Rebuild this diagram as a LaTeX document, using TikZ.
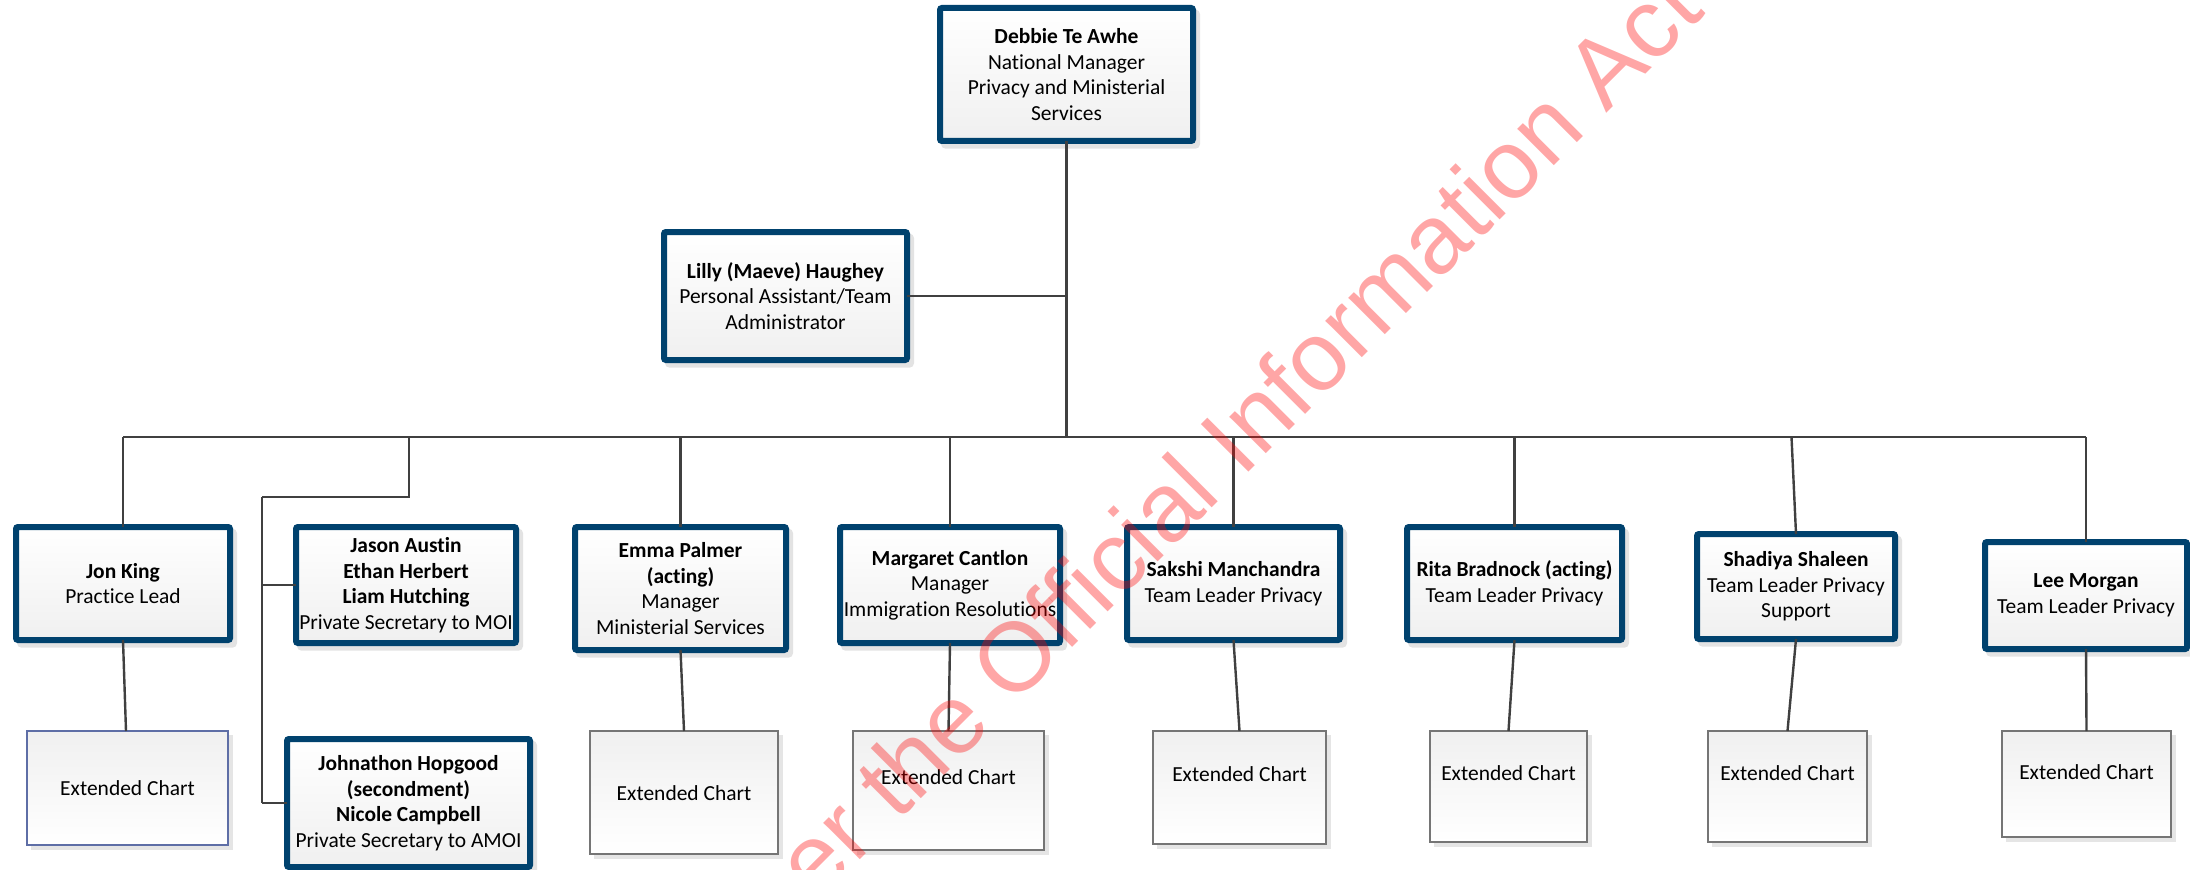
\documentclass[tikz,border=0pt]{standalone}
\usepackage{fontspec}
\setmainfont[Ligatures=NoCommon]{Carlito}
\newfontfamily\wmfont{Liberation Sans}
\usetikzlibrary{shadows,calc}
\definecolor{boxblue}{HTML}{00426E}
\definecolor{conn}{HTML}{404040}
\definecolor{jonedge}{HTML}{5E6EA6}
\definecolor{extedge}{HTML}{757575}
\tikzset{
  personbox/.style={rectangle,draw=boxblue,line width=4.5pt,rounded corners=1.5pt,
    top color=white,bottom color=black!6,middle color=black!3,inner sep=0pt,outer sep=0pt,align=center,
    font=\fontsize{16.1}{19.2}\selectfont,
    drop shadow={shadow xshift=3pt,shadow yshift=-3.5pt,fill=black!11,draw=black!11,line width=4.5pt,opacity=1}},
  extbox/.style={rectangle,draw=#1,line width=1.1pt,top color=black!6,bottom color=white,
    inner sep=0pt,outer sep=0pt,
    drop shadow={shadow xshift=3.5pt,shadow yshift=-3.5pt,fill=black!10,draw=black!10,opacity=1}},
  extlabel/.style={font=\fontsize{16.1}{19.2}\selectfont,inner sep=0pt},
  link/.style={draw=conn,line width=1.8pt},
  trunk/.style={draw=conn,line width=2.2pt},
  watermark/.style={font=\wmfont\fontsize{73.3}{80}\selectfont,text=red,text opacity=.35,inner sep=0pt}
}
\newcommand{\PB}[6]{\node[personbox,minimum width={(#4-#2-6)*0.75pt},minimum height={(#5-#3-6)*0.75pt}] (#1) at ({(#2+#4)/2},{(#3+#5)/2}) {#6};}
\newcommand{\EB}[7]{\node[extbox=#7,minimum width={(#4-#2)*0.75pt},minimum height={(#5-#3)*0.75pt},
  label={[extlabel,yshift=#6*0.75pt]center:Extended Chart}] (#1) at ({(#2+#4)/2},{(#3+#5)/2}) {};}
\begin{document}
\begin{tikzpicture}[x=0.75pt,y=-0.75pt]
\useasboundingbox (0,0) rectangle (2190,870);
% people
\PB{top}{937}{5}{1196}{144}{\textbf{Debbie Te Awhe}\\National Manager\\Privacy and Ministerial\\Services}
\PB{lilly}{661}{229}{910}{363}{\textbf{Lilly (Maeve) Haughey}\\Personal Assistant/Team\\Administrator}
\PB{jon}{13}{524}{233}{643}{\textbf{Jon King}\\Practice Lead}
\PB{jason}{293}{524}{519}{646}{\textbf{Jason Austin}\\\textbf{Ethan Herbert}\\\textbf{Liam Hutching}\\Private Secretary to MOI}
\PB{emma}{572}{524}{789}{653}{\textbf{Emma Palmer}\\\textbf{(acting)}\\Manager\\Ministerial Services}
\PB{marg}{837}{524}{1063}{646}{\textbf{Margaret Cantlon}\\Manager\\Immigration Resolutions}
\PB{john}{284}{736}{533}{870}{\textbf{Johnathon Hopgood}\\\textbf{(secondment)}\\\textbf{Nicole Campbell}\\Private Secretary to AMOI}
\PB{sakshi}{1124}{524}{1343}{643}{\textbf{Sakshi Manchandra}\\Team Leader Privacy}
\PB{rita}{1404}{524}{1625}{643}{\textbf{Rita Bradnock (acting)}\\Team Leader Privacy}
\PB{shad}{1694}{531}{1898}{642}{\textbf{Shadiya Shaleen}\\Team Leader Privacy\\Support}
\PB{lee}{1982}{539}{2190}{652}{\textbf{Lee Morgan}\\Team Leader Privacy}
% extended charts
\EB{ejon}{27}{731}{228}{845}{0}{jonedge}
\EB{eemma}{590}{731}{778}{854}{-1}{extedge}
\EB{emarg}{853}{731}{1044}{850}{13}{extedge}
\EB{esak}{1153}{731}{1326}{844}{13}{extedge}
\EB{erita}{1430}{731}{1587}{842}{13}{extedge}
\EB{eshad}{1708}{731}{1867}{842}{13}{extedge}
\EB{elee}{2002}{731}{2171}{837}{12}{extedge}
% junctions
\coordinate (bus) at (1067,437);
\coordinate (branchtop) at (409,437);
\coordinate (branchelbow) at (409,497);
\coordinate (branchleft) at (262,497);
\coordinate (shadbus) at (1791.5,437);
% connectors
\draw[link] (top.south) -- (top.south |- bus);
\draw[trunk] (lilly.east) -- (lilly.east -| top.south);
\draw[trunk] (jon.north |- bus) -- (lee.north |- bus);
\foreach \n in {jon,emma,marg,sakshi,rita,lee}{\draw[link] (\n.north) -- (\n.north |- bus);}
\draw[link] (shad.north) -- (shadbus);
\draw[link] (branchtop) -- (branchelbow) -- (branchleft);
\draw[link] (branchleft) -- (branchleft |- john.west);
\draw[link] (branchleft |- jason.west) -- (jason.west);
\draw[link] (branchleft |- john.west) -- (john.west);
\draw[link] (jon.south) -- ($(ejon.north)+(-1.5,0)$);
\draw[link] (emma.south) -- (eemma.north);
\draw[link] (marg.south) -- (emarg.north);
\draw[link] (sakshi.south) -- (esak.north);
\draw[link] (rita.south) -- (erita.north);
\draw[link] (shad.south) -- (eshad.north);
\draw[link] (lee.south) -- (elee.north);
% watermark
\node[watermark,anchor=base east,rotate=45] (wm) at (1707,13) {er the Official Information Act};
\end{tikzpicture}
\end{document}
